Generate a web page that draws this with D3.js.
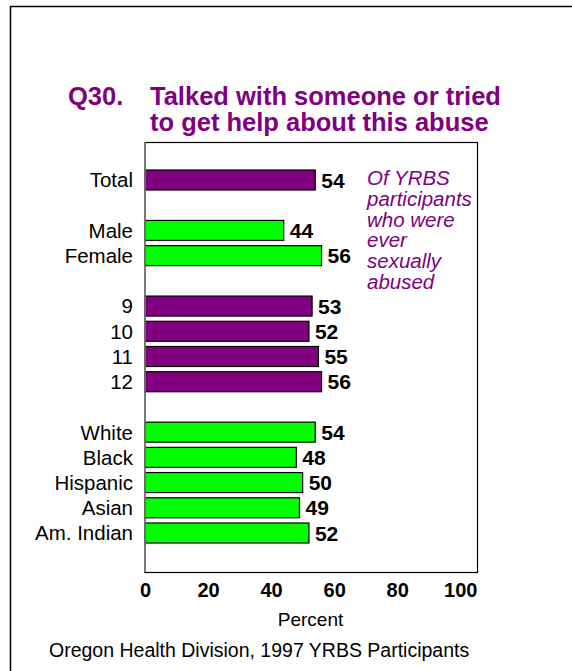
<!DOCTYPE html>
<html>
<head>
<meta charset="utf-8">
<script src="https://cdn.jsdelivr.net/npm/d3@7"></script>
<style>
  html, body { margin: 0; padding: 0; background: #fff; }
  svg { display: block; }
  text { font-family: "Liberation Sans", Arial, sans-serif; }
</style>
</head>
<body>
<svg id="chart" width="572" height="671"></svg>
<script>
// ---- data ----
const titleNumber = "Q30.";
const titleLines = ["Talked with someone or tried", "to get help about this abuse"];
const groupTotal = ["Total"];
const groupSex = ["Male", "Female"];
const groupGrade = ["9", "10", "11", "12"];
const groupRace = ["White", "Black", "Hispanic", "Asian", "Am. Indian"];
const valuesTotal = [54];
const valuesSex = [44, 56];
const valuesGrade = [53, 52, 55, 56];
const valuesRace = [54, 48, 50, 49, 52];
const xTicks = [0, 20, 40, 60, 80, 100];
const noteLines = ["Of YRBS", "participants", "who were", "ever", "sexually", "abused"];
const xLabel = "Percent";
const source = "Oregon Health Division, 1997 YRBS Participants";

const PURPLE = "#800080";
const GREEN = "#00FF00";

// build rows (with a blank slot between groups)
const groups = [
  { cats: groupTotal, vals: valuesTotal, color: PURPLE },
  { cats: groupSex, vals: valuesSex, color: GREEN },
  { cats: groupGrade, vals: valuesGrade, color: PURPLE },
  { cats: groupRace, vals: valuesRace, color: GREEN }
];
const rows = [];
let slot = 0;
groups.forEach((g, gi) => {
  if (gi > 0) slot += 1;
  g.cats.forEach((c, i) => { rows.push({ cat: c, val: g.vals[i], color: g.color, slot: slot }); slot += 1; });
});
const lastSlot = slot - 1;

const svg = d3.select("#chart");

// outer frame
svg.append("path")
  .attr("d", "M10.5,671 L10.5,6.5 L572,6.5")
  .attr("fill", "none").attr("stroke", "#000").attr("stroke-width", 1.5);

const plot = { left: 145, right: 477, top: 142, bottom: 572 };

const x = d3.scaleLinear().domain([0, 105.3]).range([plot.left, plot.right]);
const y = d3.scaleLinear().domain([0, lastSlot]).range([180, 533]);
const barH = 20;

// title
const title = svg.append("g").attr("fill", PURPLE)
  .style("font-weight", "bold").style("font-size", "25.5px");
title.append("text").attr("x", 68).attr("y", 105).text(titleNumber);
titleLines.forEach((t, i) => {
  title.append("text").attr("x", 150).attr("y", 105 + i * 25.5).text(t);
});

// plot box
svg.append("rect")
  .attr("x", plot.left).attr("y", plot.top + 0.5)
  .attr("width", plot.right - plot.left + 0.5).attr("height", plot.bottom - plot.top)
  .attr("fill", "none").attr("stroke", "#000").attr("stroke-width", 1.2);

// bars
svg.append("g").selectAll("rect").data(rows).join("rect")
  .attr("x", x(0))
  .attr("y", d => y(d.slot) - barH / 2)
  .attr("width", d => x(d.val) - x(0))
  .attr("height", barH)
  .attr("fill", d => d.color)
  .attr("stroke", "#000").attr("stroke-width", 1.2);

// y axis line (gray)
svg.append("line")
  .attr("x1", plot.left).attr("x2", plot.left)
  .attr("y1", plot.top).attr("y2", plot.bottom)
  .attr("stroke", "#808080").attr("stroke-width", 1.5);

// value labels
svg.append("g").selectAll("text").data(rows).join("text")
  .attr("x", d => x(d.val) + 6)
  .attr("y", d => y(d.slot))
  .attr("dy", "0.36em")
  .style("font-weight", "bold").style("font-size", "21px")
  .attr("fill", "#000")
  .text(d => d.val);

// category labels
svg.append("g").selectAll("text").data(rows).join("text")
  .attr("x", 133)
  .attr("y", d => y(d.slot))
  .attr("dy", "0.36em")
  .attr("text-anchor", "end")
  .style("font-size", "20.5px")
  .attr("fill", "#000")
  .text(d => d.cat);

// x axis
const xAxis = svg.append("g")
  .attr("transform", `translate(0,${plot.bottom})`)
  .call(d3.axisBottom(x).tickValues(xTicks).tickSize(0).tickPadding(11).tickFormat(d3.format("d")));
xAxis.select(".domain").remove();
xAxis.selectAll("text")
  .attr("fill", "#000")
  .style("font-family", "'Liberation Sans', Arial, sans-serif")
  .style("font-weight", "bold").style("font-size", "20px");

// x label
svg.append("text").attr("x", 310.5).attr("y", 626)
  .attr("text-anchor", "middle").style("font-size", "19px").attr("fill", "#000")
  .text(xLabel);

// note
const note = svg.append("g").attr("fill", PURPLE)
  .style("font-style", "italic").style("font-size", "20.5px");
noteLines.forEach((t, i) => {
  note.append("text").attr("x", 367).attr("y", 185 + i * 20.8).text(t);
});

// source
svg.append("text").attr("x", 49).attr("y", 657)
  .style("font-size", "19.5px").attr("fill", "#000")
  .text(source);
</script>
</body>
</html>
